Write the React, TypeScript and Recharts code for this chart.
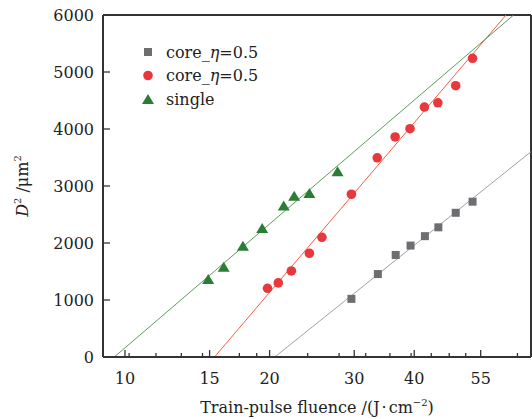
import {
  ComposedChart,
  Scatter,
  Line,
  XAxis,
  YAxis,
  ReferenceLine,
} from 'recharts';

const coreGray = [
  { x: 29.6, y: 1020 }, { x: 33.6, y: 1455 }, { x: 36.6, y: 1790 }, { x: 39.3, y: 1955 },
  { x: 42.1, y: 2120 }, { x: 44.9, y: 2275 }, { x: 48.8, y: 2530 }, { x: 52.9, y: 2725 },
];
const coreRed = [
  { x: 19.8, y: 1205 }, { x: 20.85, y: 1300 }, { x: 22.2, y: 1510 }, { x: 24.2, y: 1820 },
  { x: 25.7, y: 2100 }, { x: 29.6, y: 2855 }, { x: 33.5, y: 3495 }, { x: 36.5, y: 3860 },
  { x: 39.2, y: 4005 }, { x: 42.0, y: 4385 }, { x: 44.8, y: 4460 }, { x: 48.8, y: 4760 },
  { x: 52.9, y: 5240 },
];
const single = [
  { x: 14.9, y: 1350 }, { x: 16.05, y: 1565 }, { x: 17.6, y: 1935 }, { x: 19.3, y: 2245 },
  { x: 21.4, y: 2640 }, { x: 22.5, y: 2810 }, { x: 24.2, y: 2860 }, { x: 27.7, y: 3240 },
];

// fitted lines (straight on the log axis)
const fitGray = [{ x: 20.5, y: 0 }, { x: 70, y: 3602 }];
const fitRed = [{ x: 15.36, y: 0 }, { x: 62.1, y: 6000 }];
const fitGreen = [{ x: 9.5, y: 0 }, { x: 64.4, y: 6000 }];

const majorTicks = [10, 15, 20, 30, 40, 55];
const minorTicks = [10.2, 11.6, 13.1, 14.5, 17.3, 18.8, 24, 27.9, 31.7, 35.6, 39.4, 43.4, 47.3, 51.2, 65.6];
const yTicks = [0, 1000, 2000, 3000, 4000, 5000, 6000];

const FONT = '"DejaVu Serif", "Liberation Serif", serif';
const AXIS = '#333';

const XTick = (props: any) => {
  const { x, y, payload } = props;
  const major = majorTicks.includes(payload.value);
  return (
    <g>
      <line x1={x} x2={x} y1={y} y2={y - (major ? 7 : 4)} stroke={AXIS} strokeWidth={1.3} />
      {major && (
        <text x={x} y={y + 27} textAnchor="middle" fontFamily={FONT} fontSize={16} fill="#222">
          {payload.value}
        </text>
      )}
    </g>
  );
};

const YTick = (props: any) => {
  const { x, y, payload } = props;
  return (
    <g>
      <line x1={x} x2={x + 7} y1={y} y2={y} stroke={AXIS} strokeWidth={1.3} />
      <text x={x - 9} y={y} dy="0.36em" textAnchor="end" fontFamily={FONT} fontSize={16} fill="#222">
        {payload.value}
      </text>
    </g>
  );
};

const Square = (p: any) => <rect x={p.cx - 4} y={p.cy - 4} width={8} height={8} fill="#6e6e72" />;
const Dot = (p: any) => <circle cx={p.cx} cy={p.cy} r={4.8} fill="#e8383d" />;
const Tri = (p: any) => (
  <polygon points={`${p.cx},${p.cy - 6} ${p.cx - 6},${p.cy + 4} ${p.cx + 6},${p.cy + 4}`} fill="#2a7d35" />
);

const XLabel = () => (
  <text x={317} y={413} textAnchor="middle" fontFamily={FONT} fontSize={16} fill="#222">
    Train-pulse fluence /(J
    <tspan dx={2}>·</tspan>
    <tspan dx={2}>cm</tspan>
    <tspan dy={-7} fontSize={10}>−2</tspan>
    <tspan dy={7}>)</tspan>
  </text>
);

const YLabel = () => (
  <text
    x={28}
    y={186}
    transform="rotate(-90 28 186)"
    textAnchor="middle"
    fontFamily={FONT}
    fontSize={16}
    fill="#222"
  >
    <tspan fontStyle="italic">D</tspan>
    <tspan dy={-7} fontSize={10}>2</tspan>
    <tspan dy={7}> /μm</tspan>
    <tspan dy={-7} fontSize={10}>2</tspan>
  </text>
);

const legendItems = [
  { name: 'core_', tail: '=0.5', eta: true, marker: 'square' },
  { name: 'core_', tail: '=0.5', eta: true, marker: 'circle' },
  { name: 'single', tail: '', eta: false, marker: 'tri' },
];

const LegendBox = () => (
  <svg width={150} height={80} style={{ position: 'absolute', left: 139, top: 40 }}>
    {legendItems.map((it, i) => {
      const cy = 12 + i * 23.5;
      return (
        <g key={i}>
          {it.marker === 'square' && <Square cx={9} cy={cy} />}
          {it.marker === 'circle' && <Dot cx={9} cy={cy} />}
          {it.marker === 'tri' && <Tri cx={9} cy={cy + 1} />}
          <text x={27} y={cy} dy="0.36em" fontFamily={FONT} fontSize={16} fill="#222">
            {it.name}
            {it.eta && <tspan fontStyle="italic">η</tspan>}
            {it.tail}
          </text>
        </g>
      );
    })}
  </svg>
);

export default function App() {
  return (
    <div style={{ width: 532, height: 419, background: '#fff', position: 'relative' }}>
      <style>{'body{margin:0}'}</style>
      <ComposedChart width={532} height={419} margin={{ top: 15, right: 1, left: 0, bottom: 0 }}>
        <XAxis
          dataKey="x"
          type="number"
          scale="log"
          domain={[9, 70]}
          allowDataOverflow
          ticks={[...majorTicks, ...minorTicks]}
          interval={0}
          height={62}
          tickSize={0}
          tickMargin={0}
          tick={<XTick />}
          tickLine={false}
          axisLine={{ stroke: AXIS, strokeWidth: 2 }}
          label={<XLabel />}
        />
        <YAxis
          type="number"
          domain={[0, 6000]}
          ticks={yTicks}
          allowDataOverflow
          width={103}
          tickSize={0}
          tickMargin={0}
          tick={<YTick />}
          tickLine={false}
          axisLine={{ stroke: AXIS, strokeWidth: 2 }}
          label={<YLabel />}
        />
        <ReferenceLine y={6000} stroke={AXIS} strokeWidth={2} />
        <ReferenceLine x={70} stroke={AXIS} strokeWidth={2} />
        <Line data={fitGray} dataKey="y" type="linear" stroke="#a0a0a0" strokeWidth={1} dot={false} isAnimationActive={false} legendType="none" />
        <Line data={fitRed} dataKey="y" type="linear" stroke="#f2603f" strokeWidth={1} dot={false} isAnimationActive={false} legendType="none" />
        <Line data={fitGreen} dataKey="y" type="linear" stroke="#5e9a5e" strokeWidth={1} dot={false} isAnimationActive={false} legendType="none" />
        <Scatter data={coreGray} dataKey="y" shape={<Square />} isAnimationActive={false} />
        <Scatter data={coreRed} dataKey="y" shape={<Dot />} isAnimationActive={false} />
        <Scatter data={single} dataKey="y" shape={<Tri />} isAnimationActive={false} />
      </ComposedChart>
      <LegendBox />
    </div>
  );
}
